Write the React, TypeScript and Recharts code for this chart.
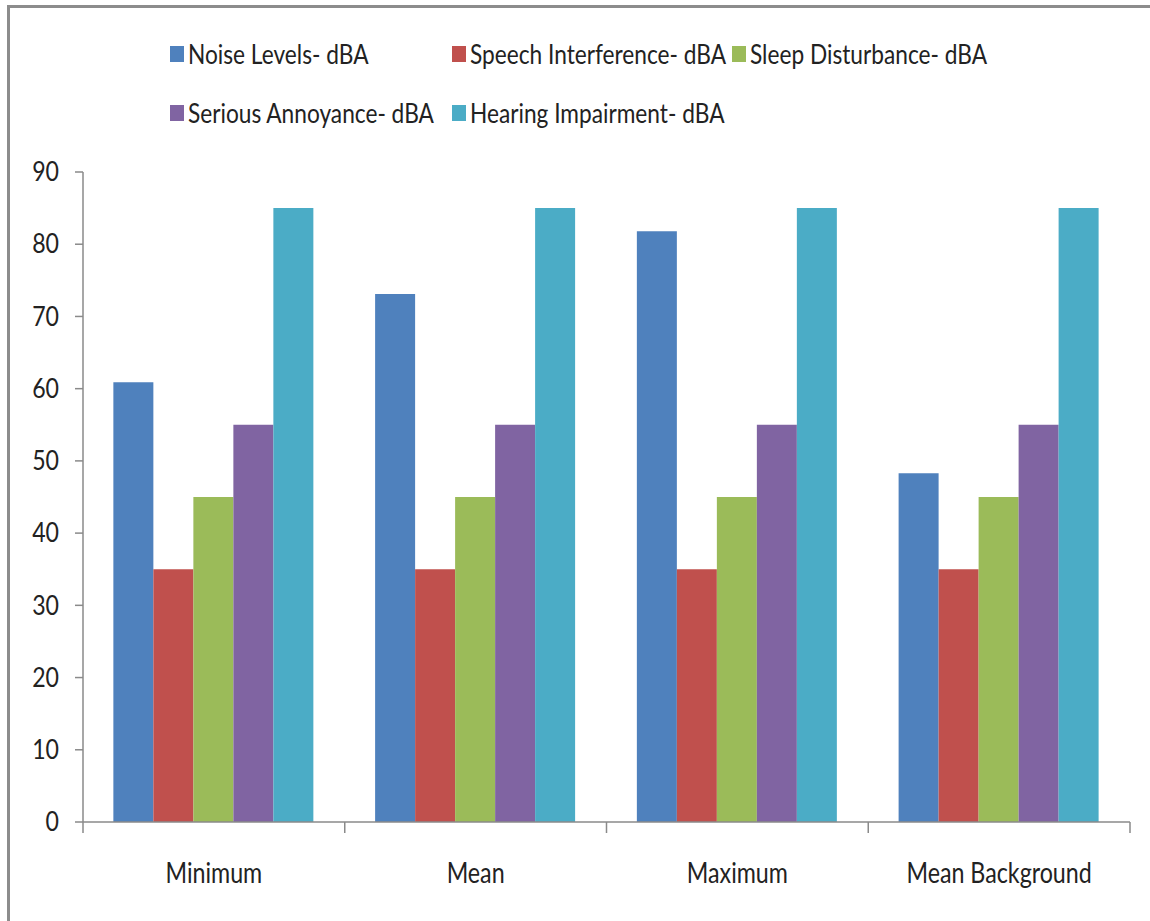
import { Bar, BarChart, Legend, XAxis, YAxis } from 'recharts';

const categories = ['Minimum', 'Mean', 'Maximum', 'Mean Background'];
const noiseLevels = [60.9, 73.1, 81.8, 48.3];
const speechInterference = [35, 35, 35, 35];
const sleepDisturbance = [45, 45, 45, 45];
const seriousAnnoyance = [55, 55, 55, 55];
const hearingImpairment = [85, 85, 85, 85];
const yTicks = [0, 10, 20, 30, 40, 50, 60, 70, 80, 90];

const series = [
  { key: 'noise', name: 'Noise Levels- dBA', color: '#4F81BD', values: noiseLevels },
  { key: 'speech', name: 'Speech Interference- dBA', color: '#C0504D', values: speechInterference },
  { key: 'sleep', name: 'Sleep Disturbance- dBA', color: '#9BBB59', values: sleepDisturbance },
  { key: 'annoyance', name: 'Serious Annoyance- dBA', color: '#8064A2', values: seriousAnnoyance },
  { key: 'hearing', name: 'Hearing Impairment- dBA', color: '#4BACC6', values: hearingImpairment },
];

const data = categories.map((category, i) => {
  const row: Record<string, string | number> = { category };
  series.forEach((s) => {
    row[s.key] = s.values[i];
  });
  return row;
});

// Lato squeezed horizontally stands in for the narrow Calibri of the original
const FONT = 'Lato, "Liberation Sans", sans-serif';
const AXIS = '#8a8a8a';
const TEXT = '#222';

function CategoryTick(props: any) {
  const { x, y, payload } = props;
  const half = payload.offset ?? 0;
  const last = payload.value === categories[categories.length - 1];
  return (
    <g>
      <line x1={x - half} x2={x - half} y1={y} y2={y + 11} stroke={AXIS} strokeWidth={1.5} />
      {last && <line x1={x + half} x2={x + half} y1={y} y2={y + 11} stroke={AXIS} strokeWidth={1.5} />}
      <text
        transform={`translate(${x} ${y + 41}) scale(0.83 1)`}
        dy="0.71em"
        textAnchor="middle"
        fill={TEXT}
        fontSize={28}
        fontFamily={FONT}
      >
        {payload.value}
      </text>
    </g>
  );
}

function ValueTick(props: any) {
  const { x, y, payload } = props;
  return (
    <text
      transform={`translate(${x} ${y}) scale(0.89 1)`}
      dy="0.355em"
      textAnchor="end"
      fill={TEXT}
      fontSize={26}
      fontFamily={FONT}
    >
      {payload.value}
    </text>
  );
}

function LegendBox() {
  return (
    <div
      style={{
        position: 'absolute',
        left: 170,
        top: 40,
        display: 'grid',
        gridTemplateColumns: '282px 280px 280px',
        rowGap: 32,
        fontFamily: FONT,
        fontSize: 27,
        color: TEXT,
      }}
    >
      {series.map((s) => (
        <div key={s.key} style={{ display: 'flex', alignItems: 'center', height: 27, whiteSpace: 'nowrap' }}>
          <span
            style={{ width: 14, height: 16, flexShrink: 0, background: s.color, marginRight: 4, display: 'inline-block' }}
          />
          <span style={{ display: 'inline-block', transform: 'scaleX(0.84)', transformOrigin: 'left center' }}>
            {s.name}
          </span>
        </div>
      ))}
    </div>
  );
}

export default function App() {
  return (
    <div style={{ position: 'absolute', left: 0, top: 0, width: 1150, height: 921, background: '#fff' }}>
      <div
        style={{
          position: 'absolute',
          left: 7,
          top: 5,
          right: 0,
          bottom: 0,
          borderTop: '3px solid #8c8c8c',
          borderLeft: '3px solid #8c8c8c',
        }}
      />
      <BarChart
        width={1150}
        height={921}
        data={data}
        margin={{ top: 172, right: 20, bottom: 39, left: 0 }}
        barCategoryGap="11.6%"
        barGap={0}
      >
        <XAxis
          dataKey="category"
          height={60}
          tickLine={false}
          tickSize={0}
          tickMargin={0}
          stroke={AXIS}
          strokeWidth={1.5}
          tick={<CategoryTick />}
          interval={0}
        />
        <YAxis
          width={83}
          domain={[0, 90]}
          ticks={yTicks}
          tickSize={8}
          tickMargin={16}
          stroke={AXIS}
          strokeWidth={1.5}
          tick={<ValueTick />}
        />
        <Legend
          layout="vertical"
          verticalAlign="middle"
          align="center"
          wrapperStyle={{ position: 'absolute', left: 0, top: 0, width: 1150, height: 150 }}
          content={() => <LegendBox />}
        />
        {series.map((s) => (
          <Bar key={s.key} dataKey={s.key} name={s.name} fill={s.color} isAnimationActive={false} />
        ))}
      </BarChart>
    </div>
  );
}
